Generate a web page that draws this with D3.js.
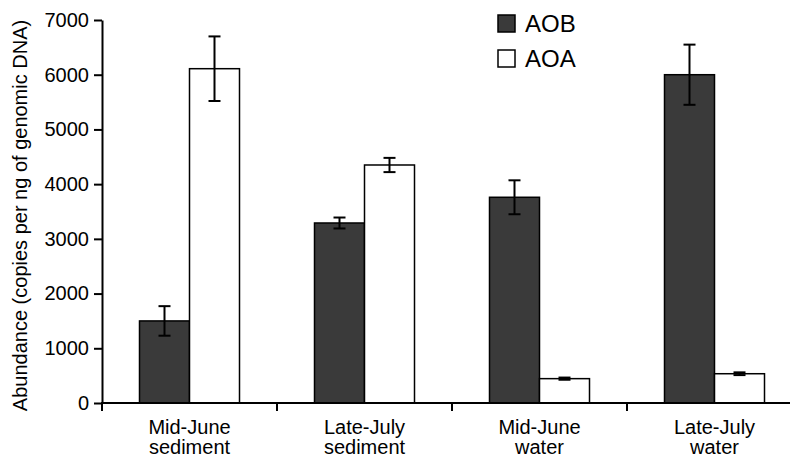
<!DOCTYPE html>
<html>
<head>
<meta charset="utf-8">
<script src="https://cdn.jsdelivr.net/npm/d3@7"></script>
<style>
  body { margin: 0; background: #fff; }
  text { font-family: Arial, "Liberation Sans", sans-serif; fill: #000; }
</style>
</head>
<body>
<div id="chart"></div>
<script>
// data
const categories = [["Mid-June", "sediment"], ["Late-July", "sediment"], ["Mid-June", "water"], ["Late-July", "water"]];
const series = ["AOB", "AOA"];
const aobValues = [1500, 3290, 3760, 6000];
const aobErrors = [270, 100, 310, 550];
const aoaValues = [6110, 4350, 445, 535];
const aoaErrors = [590, 130, 20, 25];
const yTicks = [0, 1000, 2000, 3000, 4000, 5000, 6000, 7000];

const colors = { AOB: "#3a3a3a", AOA: "#ffffff" };

const W = 790, H = 457;
const margin = { top: 20, right: 0, bottom: 54, left: 102 };

const svg = d3.select("#chart").append("svg")
  .attr("width", W)
  .attr("height", H);

// scales
const catKeys = categories.map(c => c.join(" "));
const x0 = d3.scaleBand()
  .domain(catKeys)
  .range([margin.left, margin.left + 700])
  .padding(0);

const x1 = d3.scaleBand()
  .domain(series)
  .range([0, x0.bandwidth()])
  .paddingInner(0)
  .paddingOuter(0.75);

const y = d3.scaleLinear()
  .domain([0, 7000])
  .range([H - margin.bottom, margin.top]);

const rows = catKeys.map((k, i) => ({
  key: k,
  vals: [
    { s: "AOB", v: aobValues[i], e: aobErrors[i] },
    { s: "AOA", v: aoaValues[i], e: aoaErrors[i] }
  ]
}));

// bars
const groups = svg.selectAll(".grp")
  .data(rows)
  .enter().append("g")
  .attr("class", "grp")
  .attr("transform", d => `translate(${x0(d.key)},0)`);

groups.selectAll("rect")
  .data(d => d.vals)
  .enter().append("rect")
  .attr("x", d => x1(d.s))
  .attr("y", d => y(d.v))
  .attr("width", x1.bandwidth())
  .attr("height", d => y(0) - y(d.v))
  .attr("fill", d => colors[d.s])
  .attr("stroke", "#000")
  .attr("stroke-width", 1.5);

// error bars
const cap = 6;
const err = groups.selectAll(".err")
  .data(d => d.vals)
  .enter().append("g")
  .attr("class", "err")
  .attr("stroke", "#000")
  .attr("stroke-width", 2);

err.append("line")
  .attr("x1", d => x1(d.s) + x1.bandwidth() / 2)
  .attr("x2", d => x1(d.s) + x1.bandwidth() / 2)
  .attr("y1", d => y(d.v + d.e))
  .attr("y2", d => y(d.v - d.e));
err.append("line")
  .attr("x1", d => x1(d.s) + x1.bandwidth() / 2 - cap)
  .attr("x2", d => x1(d.s) + x1.bandwidth() / 2 + cap)
  .attr("y1", d => y(d.v + d.e))
  .attr("y2", d => y(d.v + d.e));
err.append("line")
  .attr("x1", d => x1(d.s) + x1.bandwidth() / 2 - cap)
  .attr("x2", d => x1(d.s) + x1.bandwidth() / 2 + cap)
  .attr("y1", d => y(d.v - d.e))
  .attr("y2", d => y(d.v - d.e));

// y axis
const yAxis = svg.append("g")
  .attr("transform", `translate(${margin.left},0)`)
  .call(d3.axisLeft(y).tickValues(yTicks).tickFormat(d3.format("d"))
    .tickSize(8).tickPadding(5).tickSizeOuter(0));
yAxis.selectAll("path, line").attr("stroke", "#000").attr("stroke-width", 2);
yAxis.selectAll("text")
  .style("font-size", "20px")
  .style("font-family", "Arial, 'Liberation Sans', sans-serif")
  .attr("fill", "#000");

// x axis (ticks on category boundaries)
const xBase = y(0);
svg.append("line")
  .attr("x1", margin.left - 1)
  .attr("x2", W)
  .attr("y1", xBase)
  .attr("y2", xBase)
  .attr("stroke", "#000")
  .attr("stroke-width", 2);

svg.selectAll(".xtick")
  .data(catKeys)
  .enter().append("line")
  .attr("class", "xtick")
  .attr("x1", d => x0(d))
  .attr("x2", d => x0(d))
  .attr("y1", xBase)
  .attr("y2", xBase + 8)
  .attr("stroke", "#000")
  .attr("stroke-width", 2);

const xLabels = svg.selectAll(".xlab")
  .data(categories)
  .enter().append("text")
  .attr("class", "xlab")
  .attr("text-anchor", "middle")
  .style("font-size", "20px")
  .attr("transform", (d, i) => `translate(${x0(catKeys[i]) + x0.bandwidth() / 2},0)`);
xLabels.append("tspan").attr("x", 0).attr("y", 434).text(d => d[0]);
xLabels.append("tspan").attr("x", 0).attr("y", 454).text(d => d[1]);

// y label
svg.append("text")
  .attr("transform", `translate(27,${(y(0) + y(7000)) / 2 + 4}) rotate(-90)`)
  .attr("text-anchor", "middle")
  .style("font-size", "20px")
  .text("Abundance (copies per ng of genomic DNA)");

// legend
const legend = svg.selectAll(".leg")
  .data(series)
  .enter().append("g")
  .attr("class", "leg")
  .attr("transform", (d, i) => `translate(498,${15 + i * 35})`);
legend.append("rect")
  .attr("width", 17)
  .attr("height", 17)
  .attr("fill", d => colors[d])
  .attr("stroke", "#000")
  .attr("stroke-width", 1.5);
legend.append("text")
  .attr("x", 27)
  .attr("y", 17)
  .style("font-size", "24px")
  .text(d => d);
</script>
</body>
</html>
